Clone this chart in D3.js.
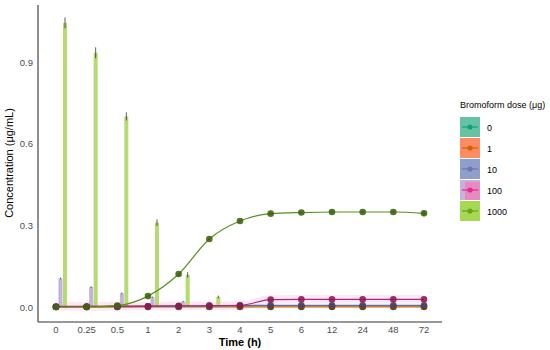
<!DOCTYPE html>
<html>
<head>
<meta charset="utf-8">
<script src="https://cdn.jsdelivr.net/npm/d3@7"></script>
<style>
  body { margin: 0; background: #fff; }
  text { font-family: "Liberation Sans", Arial, sans-serif; }
</style>
</head>
<body>
<div class="chart"></div>
<script>
var times = ["0", "0.25", "0.5", "1", "2", "3", "4", "5", "6", "12", "24", "48", "72"];
var doses = ["0", "1", "10", "100", "1000"];

// line (concentration over time) per dose
var line0 = [0, 0, 0, 0, 0, 0, 0, 0, 0, 0, 0, 0, 0];
var line1 = [0, 0, 0, 0.001, 0.001, 0.001, 0.001, 0.001, 0.001, 0.001, 0.001, 0.001, 0.001];
var line10 = [0.001, 0.002, 0.002, 0.003, 0.003, 0.004, 0.005, 0.006, 0.006, 0.006, 0.006, 0.006, 0.006];
var line100 = [0.002, 0.002, 0.003, 0.003, 0.004, 0.005, 0.006, 0.027, 0.028, 0.028, 0.028, 0.028, 0.028];
var line1000 = [0, 0, 0.005, 0.04, 0.121, 0.25, 0.316, 0.343, 0.347, 0.349, 0.349, 0.349, 0.344];
var lineErr1000 = [0, 0, 0.002, 0.003, 0.004, 0.003, 0.003, 0.003, 0.002, 0.002, 0.002, 0.002, 0.008];

// bars per dose
var bar100 = [0.105, 0.073, 0.05, 0.036, 0.02, 0.005, 0, 0, 0, 0, 0, 0, 0];
var bar1000 = [1.044, 0.934, 0.70, 0.31, 0.118, 0.037, 0, 0, 0, 0, 0, 0, 0];
var barErr1000 = [0.02, 0.02, 0.015, 0.012, 0.01, 0.005, 0, 0, 0, 0, 0, 0, 0];
var barErr100 = [0.003, 0.003, 0.003, 0.002, 0.002, 0.001, 0, 0, 0, 0, 0, 0, 0];

var yTicks = [0, 0.3, 0.6, 0.9];

var lineColors = ["#1b9e77", "#d95f02", "#7570b3", "#e7298a", "#66a61e"];
var fillColors = ["#66c2a5", "#fc8d62", "#8da0cb", "#e78ac3", "#a6d854"];

var lines = [line0, line1, line10, line100, line1000];
var bars = [null, null, null, bar100, bar1000];
var barErrs = [null, null, null, barErr100, barErr1000];
var barFill = [null, null, null, "#c6b1d8", "#b3db6f"];

var width = 550, height = 350;
var svg = d3.select("div.chart").append("svg")
    .attr("width", width)
    .attr("height", height);

var x = d3.scalePoint().domain(times).range([56, 424]);
var y = d3.scaleLinear().domain([0, 0.9]).range([307, 62]);
var dodge = d3.scalePoint().domain(doses).range([-9, 9]);
var barW = 4;

// faint ribbon around the 100 dose line
var ribbon = d3.area()
    .x(function (d, i) { return x(times[i]); })
    .y0(function (d) { return y(d - 0.016); })
    .y1(function (d) { return y(d + 0.016); })
    .curve(d3.curveMonotoneX);
svg.append("path")
    .datum(line100)
    .attr("d", ribbon)
    .attr("fill", "#e7298a")
    .attr("opacity", 0.1);

// bars
for (var s = 0; s < doses.length; s++) {
    if (!bars[s]) continue;
    var g = svg.append("g");
    var data = bars[s].map(function (v, i) { return {t: times[i], v: v, e: barErrs[s][i]}; })
        .filter(function (d) { return d.v > 0; });
    var off = dodge(doses[s]);
    g.selectAll("rect").data(data).enter().append("rect")
        .attr("x", function (d) { return x(d.t) + off - barW / 2; })
        .attr("y", function (d) { return y(d.v); })
        .attr("width", barW)
        .attr("height", function (d) { return y(0) - y(d.v); })
        .attr("fill", barFill[s]);
    g.selectAll("line").data(data).enter().append("line")
        .attr("x1", function (d) { return x(d.t) + off; })
        .attr("x2", function (d) { return x(d.t) + off; })
        .attr("y1", function (d) { return y(d.v - d.e); })
        .attr("y2", function (d) { return y(d.v + d.e); })
        .attr("stroke", "#333")
        .attr("stroke-width", 0.8);
}

// lines
var lineGen = d3.line()
    .x(function (d, i) { return x(times[i]); })
    .y(function (d) { return y(d); })
    .curve(d3.curveMonotoneX);

var strokeColors = ["#b5a642", "#c8641a", "#6a66a8", "#a8287a", "#5a8f1c"];
for (var s = 0; s < doses.length; s++) {
    svg.append("path")
        .datum(lines[s])
        .attr("d", lineGen)
        .attr("fill", "none")
        .attr("stroke", strokeColors[s])
        .attr("stroke-width", 1.2);
}

// error bars on 1000 line
svg.append("g").selectAll("line").data(line1000).enter().append("line")
    .attr("x1", function (d, i) { return x(times[i]); })
    .attr("x2", function (d, i) { return x(times[i]); })
    .attr("y1", function (d, i) { return y(d - lineErr1000[i]); })
    .attr("y2", function (d, i) { return y(d + lineErr1000[i]); })
    .attr("stroke", "#222")
    .attr("stroke-width", 1.5);

// points
for (var s = 0; s < doses.length; s++) {
    svg.append("g").selectAll("circle").data(lines[s]).enter().append("circle")
        .attr("cx", function (d, i) { return x(times[i]); })
        .attr("cy", function (d) { return y(d); })
        .attr("r", 3.3)
        .attr("fill", s === 0 ? "#6b6b1a" : d3.color(lineColors[s]).darker(1.4))
        .attr("opacity", 0.9);
}

// axes
svg.append("line").attr("x1", 38).attr("x2", 38).attr("y1", 5).attr("y2", 322)
    .attr("stroke", "#333").attr("stroke-width", 1.1);
svg.append("line").attr("x1", 38).attr("x2", 442).attr("y1", 322).attr("y2", 322)
    .attr("stroke", "#333").attr("stroke-width", 1.1);

svg.append("g").selectAll("text").data(yTicks).enter().append("text")
    .attr("x", 33)
    .attr("y", function (d) { return y(d) + 3.5; })
    .style("text-anchor", "end")
    .style("font-size", "9.5px")
    .attr("fill", "#4d4d4d")
    .text(function (d) { return d3.format(".1f")(d); });

svg.append("g").selectAll("text").data(times).enter().append("text")
    .attr("x", function (d) { return x(d); })
    .attr("y", 333)
    .style("text-anchor", "middle")
    .style("font-size", "9.5px")
    .attr("fill", "#4d4d4d")
    .text(function (d) { return d; });

svg.append("text")
    .attr("x", 240)
    .attr("y", 346)
    .style("text-anchor", "middle")
    .style("font-size", "11px")
    .style("font-weight", "bold")
    .text("Time (h)");

svg.append("text")
    .attr("transform", "translate(13," + 163 + ") rotate(-90)")
    .style("text-anchor", "middle")
    .style("font-size", "11px")
    .text("Concentration (μg/mL)");

// legend
var legend = svg.append("g");
legend.append("text")
    .attr("x", 460)
    .attr("y", 108)
    .style("font-size", "9px")
    .text("Bromoform dose (μg)");

var keys = legend.selectAll("g.key").data(doses).enter().append("g")
    .attr("class", "key")
    .attr("transform", function (d, i) { return "translate(460," + (117 + i * 21) + ")"; });
keys.append("rect")
    .attr("width", 20).attr("height", 20)
    .attr("fill", function (d, i) { return i === 3 ? "#c6b1d8" : fillColors[i]; });
keys.filter(function (d, i) { return i === 3; }).append("rect")
    .attr("x", 5).attr("y", 2).attr("width", 15).attr("height", 18)
    .attr("fill", fillColors[3]);
keys.append("line")
    .attr("x1", 2).attr("x2", 18).attr("y1", 10).attr("y2", 10)
    .attr("stroke", function (d, i) { return lineColors[i]; })
    .attr("stroke-width", 1.2);
keys.append("circle")
    .attr("cx", 10).attr("cy", 10).attr("r", 2.6)
    .attr("fill", function (d, i) { return lineColors[i]; });
keys.append("text")
    .attr("x", 27).attr("y", 13.5)
    .style("font-size", "9px")
    .text(function (d) { return d; });
</script>
</body>
</html>
